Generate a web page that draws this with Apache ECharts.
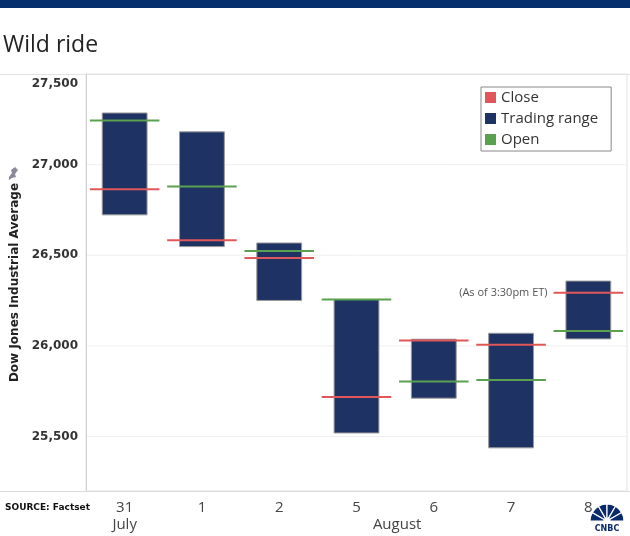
<!DOCTYPE html>
<html><head><meta charset="utf-8">
<script src="https://cdn.jsdelivr.net/npm/echarts@6/dist/echarts.min.js"></script>
<style>html,body{margin:0;padding:0;background:#fff}#c{width:630px;height:536px}</style>
</head><body><div id="c"></div>
<script>
const days = ['31', '1', '2', '5', '6', '7', '8'];
const months = ['July', 'August'];
const monthSpans = [[0, 0], [1, 6]];
const highs  = [27285, 27181, 26568, 26256, 26037, 26070, 26358];
const lows   = [26723, 26548, 26251, 25520, 25712, 25438, 26039];
const opens  = [27244, 26880, 26524, 26256, 25804, 25812, 26083];
const closes = [26864, 26583, 26485, 25718, 26030, 26007, 26293];
const yTicks = [25500, 26000, 26500, 27000, 27500];
const note = '(As of 3:30pm ET)';

const NAVY = '#1f3264', RED = '#e15759', GREEN = '#59a14f';

const chart = echarts.init(document.getElementById('c'));

function lineItem(color) {
  return function (params, api) {
    const p = api.coord([api.value(0), api.value(1)]);
    const band = api.size([1, 0])[0];
    const w = band * 0.9;
    return {
      type: 'line',
      shape: { x1: p[0] - w / 2, y1: p[1], x2: p[0] + w / 2, y2: p[1] },
      style: { stroke: color, lineWidth: 2 }
    };
  };
}

const yMax = yTicks[yTicks.length - 1];

chart.setOption({
  animation: false,
  backgroundColor: '#fff',
  title: {
    text: 'Wild ride', left: -2, top: 29,
    textStyle: { fontFamily: 'Open Sans', fontWeight: 'normal', fontSize: 23, color: '#222' }
  },
  grid: { left: 86, right: 3, top: 74, bottom: 45, show: true, borderColor: '#e2e2e2', borderWidth: 1,
          containLabel: false, outerBoundsMode: 'none' },
  legend: {
    orient: 'vertical', left: 481, top: 87,
    data: ['Close', 'Trading range', 'Open'],
    icon: 'rect', itemWidth: 11, itemHeight: 11, itemGap: 6,
    padding: [3, 13, 4, 4],
    borderColor: '#888', borderWidth: 1, backgroundColor: '#fff',
    textStyle: { fontFamily: 'Open Sans', fontSize: 15, color: '#333' }
  },
  xAxis: {
    type: 'category', data: days, boundaryGap: true,
    axisTick: { show: false },
    axisLine: { lineStyle: { color: '#dcdcdc' } },
    axisLabel: { fontFamily: 'Open Sans', fontSize: 15, color: '#444', margin: 9 },
    splitLine: { show: false }
  },
  yAxis: {
    type: 'value', min: 25200, max: 27500,
    name: 'Dow Jones Industrial Average', nameLocation: 'middle', nameRotate: 90, nameGap: 64,
    nameTextStyle: { fontFamily: 'DejaVu Sans', fontWeight: 'bold', fontSize: 12, color: '#222' },
    axisLine: { show: true, lineStyle: { color: '#d0d0d0' } },
    axisTick: { show: false, customValues: yTicks },
    axisLabel: {
      customValues: yTicks, margin: 8,
      fontFamily: 'DejaVu Sans', fontWeight: 'bold', fontSize: 12, color: '#333',
      verticalAlignMaxLabel: 'top',
      formatter: v => v === yMax ? '{t|' + v.toLocaleString('en-US') + '}' : v.toLocaleString('en-US'),
      rich: { t: { fontFamily: 'DejaVu Sans', fontWeight: 'bold', fontSize: 12, color: '#333', padding: [4, 0, 0, 0] } }
    },
    splitLine: { show: false }
  },
  series: [
    {
      name: 'Grid', type: 'custom', silent: true, z: 0,
      data: yTicks.map(v => [v]),
      encode: { y: 0 },
      renderItem: function (params, api) {
        const cs = params.coordSys;
        const p = api.coord([0, api.value(0)]);
        return { type: 'line', shape: { x1: cs.x, y1: p[1], x2: cs.x + cs.width, y2: p[1] },
                 style: { stroke: '#efefef', lineWidth: 1 } };
      }
    },
    {
      name: 'Trading range', type: 'custom', z: 2,
      itemStyle: { color: NAVY },
      data: days.map((d, i) => [i, lows[i], highs[i]]),
      encode: { x: 0, y: [1, 2] },
      renderItem: function (params, api) {
        const top = api.coord([api.value(0), api.value(2)]);
        const bot = api.coord([api.value(0), api.value(1)]);
        const band = api.size([1, 0])[0];
        const w = band * 0.58;
        return { type: 'rect', shape: { x: top[0] - w / 2, y: top[1], width: w, height: bot[1] - top[1] },
                 style: { fill: NAVY, stroke: '#9a9a9a', lineWidth: 1 } };
      }
    },
    {
      name: 'Close', type: 'custom', z: 3,
      itemStyle: { color: RED },
      data: days.map((d, i) => [i, closes[i]]),
      encode: { x: 0, y: 1 },
      renderItem: lineItem(RED)
    },
    {
      name: 'Open', type: 'custom', z: 3,
      itemStyle: { color: GREEN },
      data: days.map((d, i) => [i, opens[i]]),
      encode: { x: 0, y: 1 },
      renderItem: lineItem(GREEN)
    }
  ]
});

// Positioned extras via the chart's own scales
const last = days.length - 1;
const band = chart.convertToPixel({ xAxisIndex: 0 }, 1) - chart.convertToPixel({ xAxisIndex: 0 }, 0);
const notePt = chart.convertToPixel({ gridIndex: 0 }, [last, closes[last]]);
const monthTexts = months.map((m, k) => {
  const a = chart.convertToPixel({ xAxisIndex: 0 }, monthSpans[k][0]);
  const b = chart.convertToPixel({ xAxisIndex: 0 }, monthSpans[k][1]);
  return {
    type: 'text', x: (a + b) / 2 + (k > 0 ? 2 : 0), y: 525,
    style: { text: m, fontFamily: 'Open Sans', fontSize: 15, fill: '#444', align: 'center', verticalAlign: 'middle' }
  };
});

// CNBC peacock
const cx = 607, cy = 521, R = 17;
const feathers = [];
for (let k = 0; k < 6; k++) {
  const a0 = Math.PI + k * Math.PI / 6, a1 = a0 + Math.PI / 6;
  feathers.push({
    type: 'sector',
    shape: { cx: cx, cy: cy, r0: 3, r: R, startAngle: a0, endAngle: a1 },
    style: { fill: '#0b2a6b', stroke: '#fff', lineWidth: 1.2 }
  });
}

chart.setOption({
  graphic: [
    { type: 'rect', shape: { x: 0, y: 0, width: 630, height: 8 }, style: { fill: '#06306d' } },
    { type: 'line', shape: { x1: 0, y1: 74.5, x2: 630, y2: 74.5 }, style: { stroke: '#e2e2e2', lineWidth: 1 } },
    { type: 'line', shape: { x1: 0, y1: 491.5, x2: 630, y2: 491.5 }, style: { stroke: '#dcdcdc', lineWidth: 1 } },
    {
      type: 'text', x: notePt[0] - band * 0.45 - 6, y: notePt[1],
      style: { text: note, fontFamily: 'Open Sans', fontSize: 11, fill: '#555', align: 'right', verticalAlign: 'middle' }
    },
    {
      type: 'text', x: 5, y: 508,
      style: { text: 'SOURCE: Factset', fontFamily: 'DejaVu Sans', fontWeight: 'bold', fontSize: 9, fill: '#111', verticalAlign: 'middle' }
    },
    {
      type: 'polygon', shape: { points: [[9, 177], [12, 173], [11, 170], [15, 167], [18, 170], [15, 174], [16, 177], [12, 178], [9, 180]] },
      style: { fill: '#8a8a9a' }
    },
    ...monthTexts,
    ...feathers,
    { type: 'circle', shape: { cx: cx, cy: cy, r: 3 }, style: { fill: '#fff' } },
    {
      type: 'text', x: cx, y: 529,
      style: { text: 'CNBC', fontFamily: 'DejaVu Sans', fontWeight: 'bold', fontSize: 8, fill: '#0b2a6b', align: 'center', verticalAlign: 'middle' }
    }
  ]
});
</script>
</body></html>
